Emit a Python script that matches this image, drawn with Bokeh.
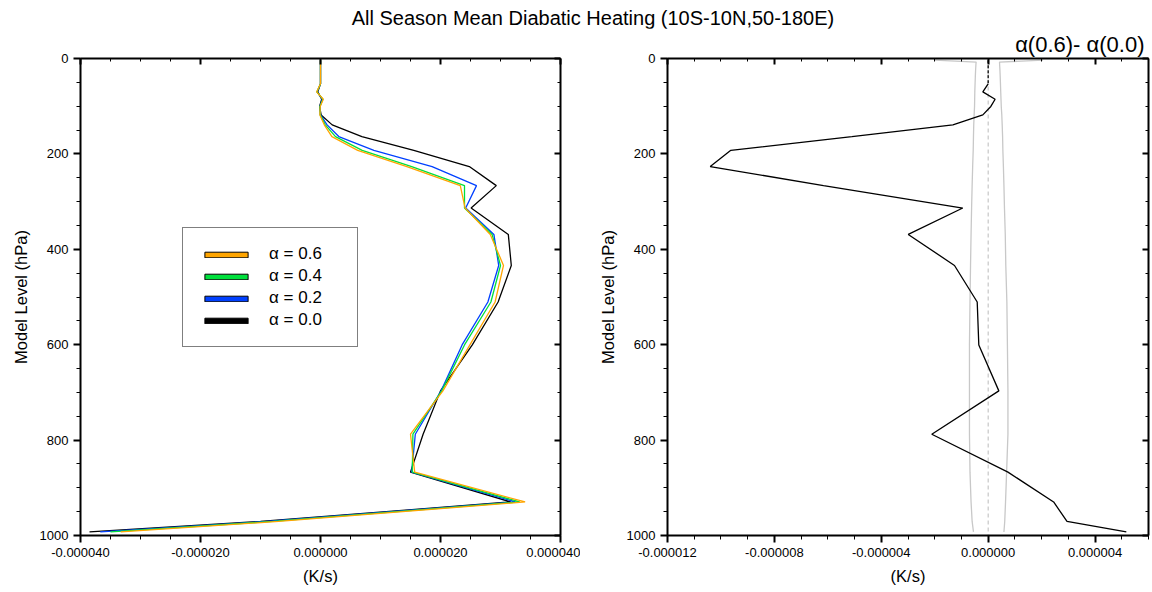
from bokeh.plotting import figure
from bokeh.models import (Range1d, FixedTicker, PrintfTickFormatter, LinearAxis,
                          Legend, LegendItem, Div, ColumnDataSource)
from bokeh.layouts import row, column
from bokeh.embed import file_html
from bokeh.resources import INLINE

FONT = "Liberation Sans"
NAN = float("nan")

# CAM model levels (hPa)
levels = [3.54, 7.39, 13.97, 23.94, 37.23, 53.11, 70.06, 85.44, 100.51, 118.25,
          139.12, 163.66, 192.54, 226.51, 266.48, 313.5, 368.82, 433.9, 510.46,
          600.52, 696.8, 787.7, 867.16, 929.65, 970.55, 992.56]

# Diabatic heating (1e-5 K/s)
a00 = [0, 0, 0, 0, 0, 0, -0.045, 0.02, -0.015, 0.01, 0.195, 0.69, 1.555, 2.48,
       2.93, 2.51, 3.13, 3.18, 2.96, 2.53, 2.00, 1.71, 1.50, 3.17, -1.00, -3.85]
a02 = [0, 0, 0, 0, 0, 0, -0.055, 0.03, -0.01, 0.0, 0.11, 0.305, 0.89, 1.86,
       2.60, 2.42, 2.89, 2.97, 2.79, 2.36, 2.01, 1.58, 1.52, 3.25, -0.90, -3.67]
a04 = [0, 0, 0, 0, 0, 0, -0.06, 0.04, -0.01, -0.005, 0.08, 0.25, 0.695, 1.52,
       2.40, 2.40, 2.86, 3.00, 2.84, 2.40, 2.02, 1.54, 1.53, 3.32, -0.80, -3.50]
a06 = [0, 0, 0, 0, 0, 0, -0.065, 0.046, -0.005, -0.01, 0.063, 0.19, 0.62, 1.44,
       2.33, 2.41, 2.83, 3.05, 2.91, 2.49, 2.04, 1.50, 1.57, 3.41, -0.70, -3.33]

# Difference alpha(0.6) - alpha(0.0) (1e-7 K/s)
diff = [0, 0, 0, 0, 0, 0, -2.0, 2.6, 1.0, -2.0, -13.2, -51.0, -96.3, -104.0,
        -61.6, -9.5, -29.9, -12.6, -4.1, -3.5, 4.0, -21.1, 7.4, 24.5, 29.5, 51.7]
# Significance bounds (1e-7 K/s)
lo = [-20.0, -4.5, -4.6, -4.7, -4.8, -4.9, -5.0, -5.05, -5.1, -5.25, -5.4, -5.5,
      -5.6, -5.8, -6.0, -6.2, -6.4, -6.6, -6.8, -7.0, -7.0, -7.0, -6.8, -6.4,
      -6.0, -5.5]
hi = [20.5, 4.25, 4.3, 4.4, 4.5, 4.6, 4.7, 4.8, 4.9, 5.1, 5.25, 5.4, 5.5, 5.7,
      5.9, 6.1, 6.4, 6.6, 7.0, 7.2, 7.4, 7.4, 6.9, 6.5, 6.2, 5.9]

series_labels = ["α = 0.6", "α = 0.4", "α = 0.2", "α = 0.0"]
series_colors = ["#FFA500", "#00E03C", "#0040FF", "black"]

left_xticks = [-4e-5, -2e-5, 0.0, 2e-5, 4e-5]
left_xminor = [i * 5e-6 for i in range(-8, 9)]
right_xticks = [-1.2e-5, -8e-6, -4e-6, 0.0, 4e-6]
right_xminor = [i * 1e-6 for i in range(-12, 7)]
yticks = [0, 200, 400, 600, 800, 1000]
yminor = list(range(0, 1001, 50))


def style(p, xticks, xminor):
    p.grid.visible = False
    p.outline_line_color = None
    p.background_fill_color = "white"
    p.border_fill_color = "white"
    p.xaxis.ticker = FixedTicker(ticks=xticks, minor_ticks=xminor)
    p.xaxis.formatter = PrintfTickFormatter(format="%.6f")
    p.yaxis.ticker = FixedTicker(ticks=yticks, minor_ticks=yminor)
    for ax in p.xaxis + p.yaxis:
        ax.axis_line_width = 2
        ax.major_tick_line_width = 2
        ax.minor_tick_line_width = 1
        ax.major_tick_in = 0
        ax.major_tick_out = 7
        ax.minor_tick_in = 0
        ax.minor_tick_out = 4
        ax.major_label_text_font = FONT
        ax.major_label_text_font_size = "13px"
        ax.major_label_text_color = "black"
        ax.axis_label_text_font = FONT
        ax.axis_label_text_font_size = "16.5px"
        ax.axis_label_text_font_style = "normal"
        ax.axis_label_text_color = "black"
        ax.major_label_standoff = 5
        ax.axis_label_standoff = 7
    for side, tk, mn in (("right", yticks, yminor), ("above", xticks, xminor)):
        ax = LinearAxis(ticker=FixedTicker(ticks=tk, minor_ticks=mn))
        ax.axis_line_width = 2
        ax.major_tick_line_width = 2
        ax.major_tick_in = 6
        ax.major_tick_out = 0
        ax.minor_tick_in = 3
        ax.minor_tick_out = 0
        ax.major_label_overrides = {t: "" for t in tk}
        ax.major_label_standoff = 0
        p.add_layout(ax, side)


# ---------------- left panel ----------------
p1 = figure(width=580, height=559, x_range=Range1d(-4e-5, 4e-5),
            y_range=Range1d(1000, 0), output_backend="svg", toolbar_location=None,
            min_border_left=80, min_border_right=20, min_border_top=30,
            min_border_bottom=50, x_axis_label="(K/s)",
            y_axis_label="Model Level (hPa)")
style(p1, left_xticks, left_xminor)

src = ColumnDataSource(dict(
    p=levels,
    a00=[v * 1e-5 for v in a00],
    a02=[v * 1e-5 for v in a02],
    a04=[v * 1e-5 for v in a04],
    a06=[v * 1e-5 for v in a06],
))
for col, c in (("a00", "black"), ("a02", series_colors[2]),
               ("a04", series_colors[1]), ("a06", series_colors[0])):
    p1.line(col, "p", source=src, line_color=c, line_width=1.3)

items = []
for lab, c in zip(series_labels, series_colors):
    r = p1.quad(left=[NAN], right=[NAN], top=[NAN], bottom=[NAN], fill_color=c,
                line_color="black", line_width=1)
    items.append(LegendItem(label=lab, renderers=[r]))
leg = Legend(items=items, location=(102, 188))
leg.border_line_color = "black"
leg.border_line_width = 1
leg.background_fill_alpha = 1
leg.glyph_width = 54
leg.glyph_height = 7
leg.label_height = 20
leg.label_width = 72
leg.spacing = 2
leg.padding = 16
leg.margin = 0
leg.label_standoff = 16
leg.label_text_font = FONT
leg.label_text_font_size = "17px"
leg.label_text_color = "black"
p1.add_layout(leg, "center")

# ---------------- right panel ----------------
p2 = figure(width=570, height=559, x_range=Range1d(-1.2e-5, 6e-6),
            y_range=Range1d(1000, 0), output_backend="svg", toolbar_location=None,
            min_border_left=87, min_border_right=2, min_border_top=30,
            min_border_bottom=50, x_axis_label="(K/s)",
            y_axis_label="Model Level (hPa)")
style(p2, right_xticks, right_xminor)
p2.title.text = "α(0.6)- α(0.0)"
p2.title.align = "right"
p2.title.text_font = FONT
p2.title.text_font_size = "22px"
p2.title.text_font_style = "normal"
p2.title.text_color = "black"
p2.title.standoff = 3
p2.title.offset = 4

src2 = ColumnDataSource(dict(
    p=levels,
    d=[v * 1e-7 for v in diff],
    lo=[v * 1e-7 for v in lo],
    hi=[v * 1e-7 for v in hi],
))
p2.line("lo", "p", source=src2, line_color="#C8C8C8", line_width=1.3)
p2.line("hi", "p", source=src2, line_color="#C8C8C8", line_width=1.3)
p2.line(x=[0.0, 0.0], y=[0, 1000], line_color="#BBBBBB", line_width=1,
        line_dash="4 3")
top_src = ColumnDataSource(dict(p=levels[:6], d=[v * 1e-7 for v in diff[:6]]))
bot_src = ColumnDataSource(dict(p=levels[5:], d=[v * 1e-7 for v in diff[5:]]))
p2.line("d", "p", source=top_src, line_color="black", line_width=1.3,
        line_dash="3 2")
p2.line("d", "p", source=bot_src, line_color="black", line_width=1.3)

title = Div(text="<div style='width:1150px;height:28px;padding-top:8px;"
                 "line-height:20px;text-align:center;font-family:\"Liberation Sans\";"
                 "font-size:20px;padding-left:36px;box-sizing:border-box;"
                 "color:black'>"
                 "All Season Mean Diabatic Heating (10S-10N,50-180E)</div>",
            width=1150, height=28, margin=0)

layout = column(title, row(p1, p2, spacing=0), spacing=0)
open("out.html", "w").write(file_html(layout, INLINE))
